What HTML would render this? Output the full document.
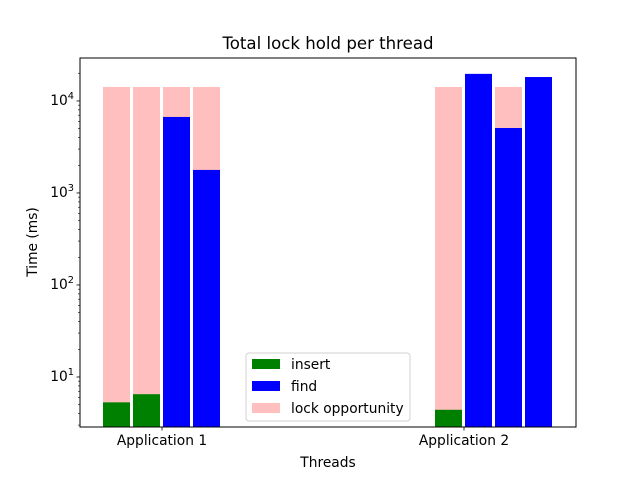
<!DOCTYPE html>
<html><head><meta charset="utf-8"><style>
body{margin:0;background:#fff;font-family:"Liberation Sans","DejaVu Sans",sans-serif;}
svg text{font-family:"DejaVu Sans","Liberation Sans",sans-serif;fill:#000;}
</style></head><body>
<svg id="chart" width="640" height="480">
<rect x="0" y="0" width="640" height="480" fill="#fff"/>
<g id="bars"></g>
<g id="axes"></g>
<text x="328" y="49" font-size="16.6" text-anchor="middle">Total lock hold per thread</text>
<text x="328" y="467" font-size="13.8" text-anchor="middle">Threads</text>
<text transform="translate(37,242) rotate(-90)" font-size="13.8" text-anchor="middle">Time (ms)</text>
<g>
<rect x="246" y="353" width="164" height="68" rx="3" fill="#fff" stroke="#ccc" opacity="0.9"/>
<rect x="252" y="359" width="28" height="10" fill="green"/>
<text x="291" y="369" font-size="13.8">insert</text>
<rect x="252" y="381" width="28" height="10" fill="blue"/>
<text x="291" y="391" font-size="13.8">find</text>
<rect x="252" y="403" width="28" height="10" fill="#ffbfbf"/>
<text x="291" y="413" font-size="13.8">lock opportunity</text>
</g>
</svg>
<script>
const groups = ["Application 1","Application 2"];
const lockOpportunity = [14200,14200,14200,14200,14200,0,14200,14200];
const insertVals = [5.3,6.5,0,0,4.4,0,0,0];
const findVals = [0,0,6700,1780,0,19700,5080,18200];
const yTicks = [10,100,1000,10000];
const yTickLabels = ["1","2","3","4"];

const L=80,R=576,T=58,B=427;
const yMin=Math.log10(2.86), yMax=Math.log10(29300);
function y(v){return B-(Math.log10(v)-yMin)/(yMax-yMin)*(B-T);}
function xBar(g,i){return (g===0?103:435)+i*30;}
function xTick(g){return g===0?162:464;}
const NS="http://www.w3.org/2000/svg";
const bars=document.getElementById('bars'), axes=document.getElementById('axes');
function mk(tag,attrs,parent){const e=document.createElementNS(NS,tag);for(const k in attrs)e.setAttribute(k,attrs[k]);parent.appendChild(e);return e;}
for(let g=0;g<2;g++){for(let i=0;i<4;i++){
  const k=g*4+i, x=xBar(g,i);
  const lo=lockOpportunity[k];
  if(lo>0){const r=mk('rect',{x:x,y:y(lo),width:27,height:B-y(lo),fill:'#ffbfbf'},bars);
    
    }
  const iv=insertVals[k];
  if(iv>0){const r=mk('rect',{x:x,y:y(iv),width:27,height:B-y(iv),fill:'green'},bars);
    
    }
  const fv=findVals[k];
  if(fv>0){const r=mk('rect',{x:x,y:y(fv),width:27,height:B-y(fv),fill:'blue'},bars);
    
    }
}}
const frame=mk('rect',{x:L,y:T,width:R-L,height:B-T,fill:'none',stroke:'#000','stroke-width':1},axes);


for(let d=0;d<=4;d++){for(let m=2;m<=9;m++){const v=m*Math.pow(10,d);const yy=y(v);if(yy<T||yy>B)continue;
  mk('line',{x1:L-2,x2:L,y1:yy,y2:yy,stroke:'#000','stroke-width':0.6},axes);}}
yTicks.forEach((v,i)=>{const yy=y(v);
  mk('line',{x1:L-3.5,x2:L,y1:yy,y2:yy,stroke:'#000','stroke-width':0.8},axes);
  const t=mk('text',{x:L-6,y:yy+4,'font-size':13.8,'text-anchor':'end'},axes);
  
  
  t.innerHTML='10<tspan dy="-6" font-size="9.8">'+yTickLabels[i]+'</tspan>';});
groups.forEach((g,gi)=>{const xc=xTick(gi);
  mk('line',{x1:xc,x2:xc,y1:B,y2:B+3.5,stroke:'#000','stroke-width':0.8},axes);
  const t=mk('text',{x:xc,y:B+18,'font-size':13.8,'text-anchor':'middle'},axes);
  
  
  t.textContent=g;});
</script>
</body></html>
